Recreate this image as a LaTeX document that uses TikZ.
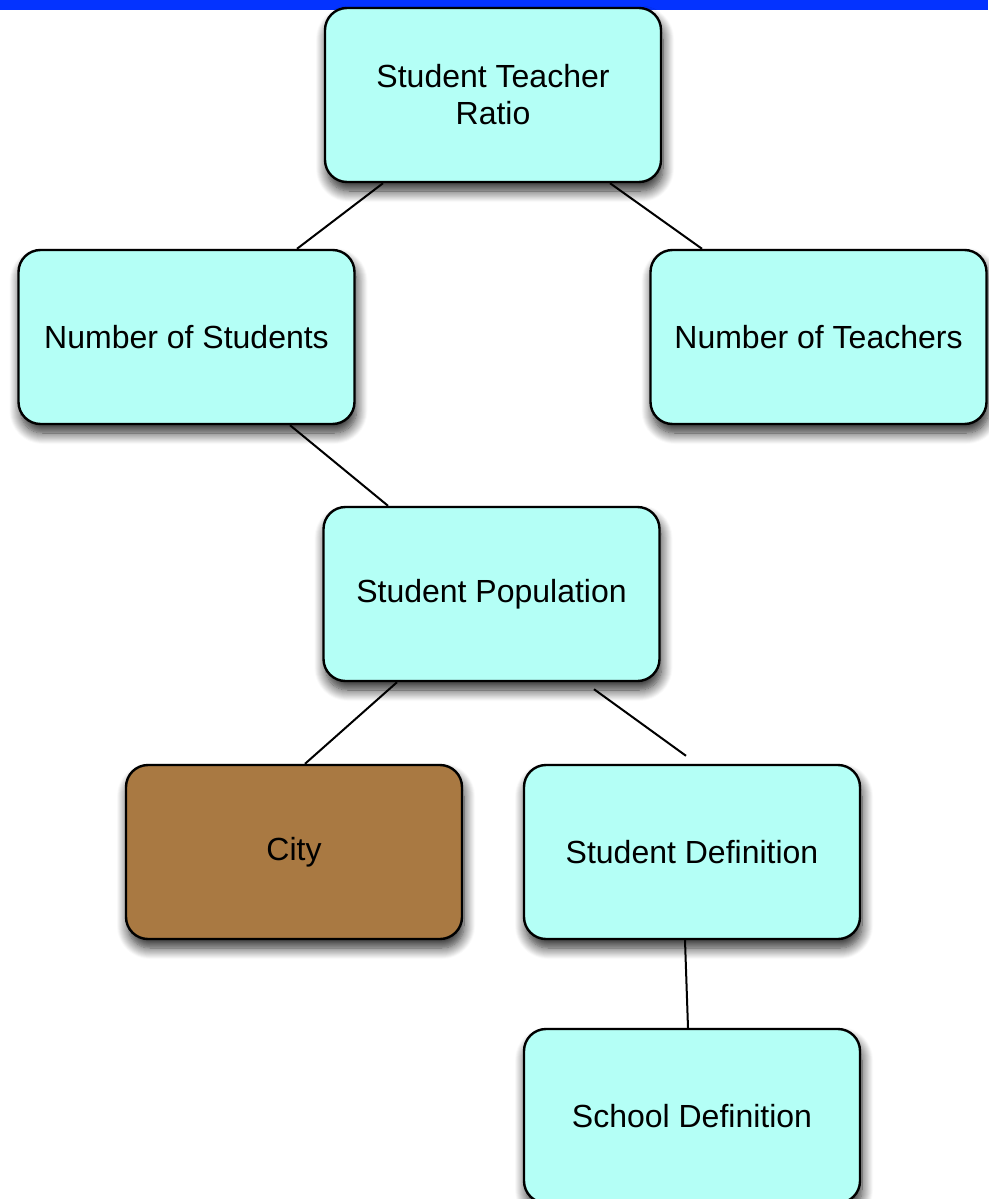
\documentclass[tikz,border=0pt]{standalone}
\usepackage{fontspec}
\setmainfont{Liberation Sans}
\usetikzlibrary{shadows.blur}
\definecolor{topbar}{RGB}{4,51,255}
\definecolor{boxcyan}{RGB}{180,255,246}
\definecolor{boxbrown}{RGB}{169,121,66}
\tikzset{
  px/.style={x=1pt,y=-1pt},
  conceptbox/.style={draw=black, line width=2.4pt, fill=boxcyan,
    rounded corners=22pt, minimum width=336pt, minimum height=174pt,
    inner sep=0pt, align=center,
    font=\fontsize{32}{37}\selectfont,
    blur shadow={shadow xshift=2pt, shadow yshift=-9pt,
      shadow blur radius=11pt, shadow blur steps=12, shadow opacity=85}},
  link/.style={draw=black, line width=2pt}
}
\begin{document}
\begin{tikzpicture}[px]
  \useasboundingbox (0,0) rectangle (988,1199);
  % banner along the top edge
  \fill[topbar] (0,0) rectangle (988,10);

  % concept boxes
  \node[conceptbox] (ratio)    at (493,95)    {Student Teacher\\Ratio};
  \node[conceptbox] (students) at (186.5,337) {Number of Students};
  \node[conceptbox] (teachers) at (818.5,337) {Number of Teachers};
  \node[conceptbox] (pop)      at (491.5,594) {Student Population};
  \node[conceptbox, fill=boxbrown] (city) at (294,852) {City};
  \node[conceptbox] (sdef)     at (692,852)   {Student Definition};
  \node[conceptbox] (school)   at (692,1116)  {School Definition};

  % links between concepts
  \draw[link] ([xshift=-110pt]ratio.south) -- ([xshift=110.5pt]students.north);
  \draw[link] ([xshift=117pt]ratio.south) -- ([xshift=-116.5pt]teachers.north);
  \draw[link] ([xshift=103.5pt]students.south) -- ([xshift=-103.5pt]pop.north);
  \draw[link] ([xshift=-94.5pt]pop.south) -- ([xshift=11pt]city.north);
  \coordinate (popgap) at ([xshift=102.5pt,yshift=-7pt]pop.south);
  \coordinate (sdefgap) at ([xshift=-6pt,yshift=8pt]sdef.north);
  \draw[link] (popgap) -- (sdefgap);
  \draw[link] ([xshift=-7pt]sdef.south) -- ([xshift=-4pt]school.north);
\end{tikzpicture}
\end{document}
